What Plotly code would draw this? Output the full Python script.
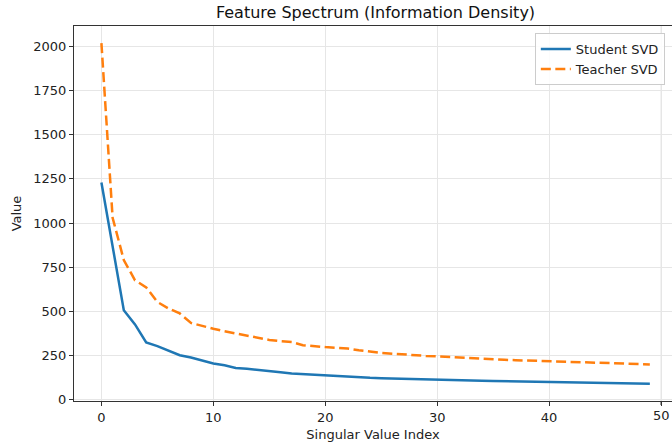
import plotly.graph_objects as go

index = list(range(50))
student_svd = [1230, 860, 505, 425, 322, 302, 278, 250, 237, 220,
               203, 193, 178, 173, 165, 161, 153, 147, 143, 139,
               134, 131, 128, 126, 122, 120, 118, 116, 115, 114,
               113, 109, 108, 106, 105, 104, 103, 102, 100, 99,
               98, 97, 96, 95, 94, 93, 92, 91, 90, 88]
teacher_svd = [2020, 1030, 790, 675, 635, 552, 515, 487, 433, 415,
               400, 386, 373, 362, 350, 337, 330, 325, 307, 300,
               296, 292, 288, 278, 269, 263, 259, 254, 249, 246,
               244, 240, 237, 232, 229, 227, 224, 222, 220, 217,
               214, 212, 210, 207, 205, 203, 202, 200, 199, 198]
x_ticks = [0, 10, 20, 30, 40, 50]
last_tick = x_ticks[-1]

FONT = "DejaVu Sans"
TXT = "#222"
fig = go.Figure()
fig.add_trace(go.Scatter(x=index, y=student_svd, mode="lines", name="Student SVD",
                         line=dict(color="#1f77b4", width=2.5)))
fig.add_trace(go.Scatter(x=index, y=teacher_svd, mode="lines", name="Teacher SVD",
                         line=dict(color="#ff7f0e", width=2.5, dash="10px,4.5px")))

fig.update_layout(
    width=672, height=446,
    margin=dict(l=74, r=0, t=26, b=45),
    paper_bgcolor="white", plot_bgcolor="white",
    font=dict(family=FONT, size=13, color=TXT),
    title=dict(text="Feature Spectrum (Information Density)", x=(375.5 - 74) / 598, xanchor="center",
               xref="paper", y=1 - 12 / 446, yanchor="middle",
               font=dict(family=FONT, size=16, color="#111")),
    legend=dict(x=0.988, xanchor="right", y=0.981, yanchor="top",
                bgcolor="rgba(255,255,255,0.85)", bordercolor="#cccccc", borderwidth=1,
                font=dict(family=FONT, size=13, color=TXT),
                tracegroupgap=0, itemwidth=30),
    showlegend=True,
)
fig.update_xaxes(range=[-2.45, 50.98], tickmode="array", tickvals=x_ticks,
                 ticktext=[str(v) if v != last_tick else "" for v in x_ticks],
                 showgrid=True, gridcolor="#e6e6e6", gridwidth=1,
                 zeroline=False, showline=True, linecolor="#333", linewidth=1, mirror=True,
                 ticks="outside", ticklen=4, tickcolor="#333",
                 title=dict(text="Singular Value Index", standoff=6,
                            font=dict(family=FONT, size=13, color=TXT)),
                 tickfont=dict(family=FONT, size=13, color=TXT))
fig.update_yaxes(range=[-9.65, 2117.5], dtick=250, tick0=0, tickformat="d",
                 showgrid=True, gridcolor="#e6e6e6", gridwidth=1,
                 zeroline=False, showline=True, linecolor="#333", linewidth=1,
                 ticks="outside", ticklen=4, tickcolor="#333",
                 title=dict(text="Value", standoff=8,
                            font=dict(family=FONT, size=13, color=TXT)),
                 tickfont=dict(family=FONT, size=13, color=TXT))

# last tick (near the cut right edge): gridline, tick mark and label drawn explicitly
fig.add_shape(type="line", xref="x", yref="paper", x0=last_tick, x1=last_tick, y0=0, y1=1,
              line=dict(color="#e6e6e6", width=1), layer="below")
fig.add_shape(type="line", xref="x", yref="paper", x0=last_tick, x1=last_tick, y0=0, y1=-4 / 375,
              line=dict(color="#333", width=1))
fig.add_annotation(x=last_tick, xref="x", y=0, yref="paper", yanchor="top", yshift=-5,
                   text=str(last_tick), showarrow=False,
                   font=dict(family=FONT, size=13, color=TXT))

fig.write_html("out.html", config={"displayModeBar": False})

with open("out.html", "r", encoding="utf-8") as f:
    html = f.read()
html = html.replace("<head>", "<head><style>html,body{margin:0;padding:0;overflow:hidden;}</style>", 1)
with open("out.html", "w", encoding="utf-8") as f:
    f.write(html)
